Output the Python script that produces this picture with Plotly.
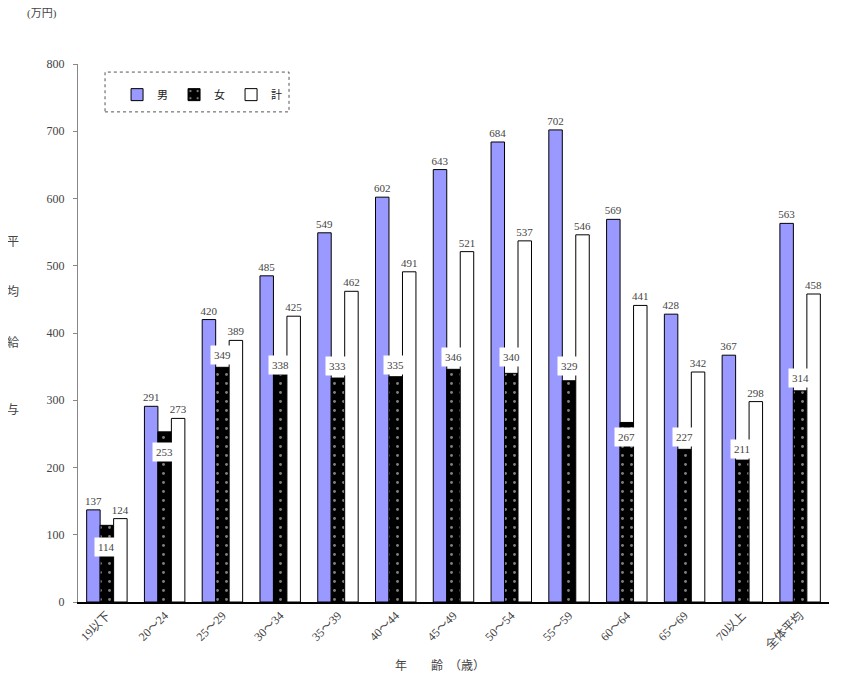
import plotly.graph_objects as go

# 年齢階層別の平均給与（万円）
ages = ["19以下", "20～24", "25～29", "30～34", "35～39", "40～44", "45～49",
        "50～54", "55～59", "60～64", "65～69", "70以上", "全体平均"]
male = [137, 291, 420, 485, 549, 602, 643, 684, 702, 569, 428, 367, 563]
female = [114, 253, 349, 338, 333, 335, 346, 340, 329, 267, 227, 211, 314]
total = [124, 273, 389, 425, 462, 491, 521, 537, 546, 441, 342, 298, 458]

# shift of the boxed 女 labels (px, + = up), they sit on the bar top or inside it
female_label_shift = [-22, -20, 12, 10, 12, 12, 12, 16, 15, -15, 12, 11, 13]

FONT = "Liberation Serif, Noto Sans CJK JP, serif"
TXT = "#444444"

fig = go.Figure()
fig.add_trace(go.Bar(
    x=ages, y=male, name="男",
    marker=dict(color="#9999FF", line=dict(color="black", width=1)),
    text=male, textposition="outside", cliponaxis=False, constraintext="none",
    textfont=dict(size=11, color=TXT, family=FONT),
))
fig.add_trace(go.Bar(
    x=ages, y=female, name="女",
    marker=dict(color="black", line=dict(color="black", width=1),
                pattern=dict(shape=".", fgcolor="white", bgcolor="black",
                             size=9, solidity=0.08)),
    textposition="none",
))
fig.add_trace(go.Bar(
    x=ages, y=total, name="計",
    marker=dict(color="white", line=dict(color="black", width=1)),
    text=total, textposition="outside", cliponaxis=False, constraintext="none",
    textfont=dict(size=11, color=TXT, family=FONT),
))

annotations = []
for i, (a, v) in enumerate(zip(ages, female)):
    annotations.append(dict(
        x=a, y=v, xref="x", yref="y", text=str(v), showarrow=False,
        yshift=female_label_shift[i], bgcolor="white", borderpad=3,
        font=dict(size=11, color=TXT, family=FONT),
    ))

# axis titles
annotations.append(dict(x=-0.07, y=1.11, xref="paper", yref="paper",
                        text="(万円)", showarrow=False,
                        font=dict(size=11, color=TXT, family=FONT)))
for ch, yy in zip("平均給与", [0.685, 0.576, 0.481, 0.357]):
    annotations.append(dict(x=-0.097, y=yy, xref="paper", yref="paper",
                            text=ch, showarrow=False,
                            font=dict(size=12, color=TXT, family=FONT)))
annotations.append(dict(x=0.482, y=-0.136, xref="paper", yref="paper",
                        text="年　　齢　（歳）", showarrow=False,
                        font=dict(size=12, color=TXT, family=FONT)))

fig.update_layout(
    width=842, height=684,
    margin=dict(l=70, r=21, t=56, b=90),
    paper_bgcolor="white", plot_bgcolor="white",
    barmode="group", bargap=0.3, bargroupgap=0,
    font=dict(family=FONT, size=11, color=TXT),
    showlegend=True,
    legend=dict(orientation="h", x=0.052, y=0.97, xanchor="left", yanchor="top",
                entrywidth=12, entrywidthmode="pixels", itemwidth=30,
                bgcolor="rgba(0,0,0,0)", font=dict(size=11, color="#222222")),
    annotations=annotations,
    shapes=[dict(type="rect", xref="paper", yref="paper",
                 x0=0.036, x1=0.281, y0=0.911, y1=0.985,
                 line=dict(color="#555555", width=1, dash="dot"))],
    xaxis=dict(showline=True, linecolor="black", linewidth=1.5,
               tickangle=-45, ticks="", showgrid=False,
               tickfont=dict(size=12, color=TXT, family=FONT)),
    yaxis=dict(range=[0, 800], dtick=100, showgrid=False, zeroline=False,
               showline=True, linecolor="#888888", linewidth=1,
               ticks="outside", ticklen=4, tickcolor="#888888",
               ticklabelstandoff=6,
               tickfont=dict(size=12, color=TXT, family=FONT)),
)

fig.write_html("out.html")
